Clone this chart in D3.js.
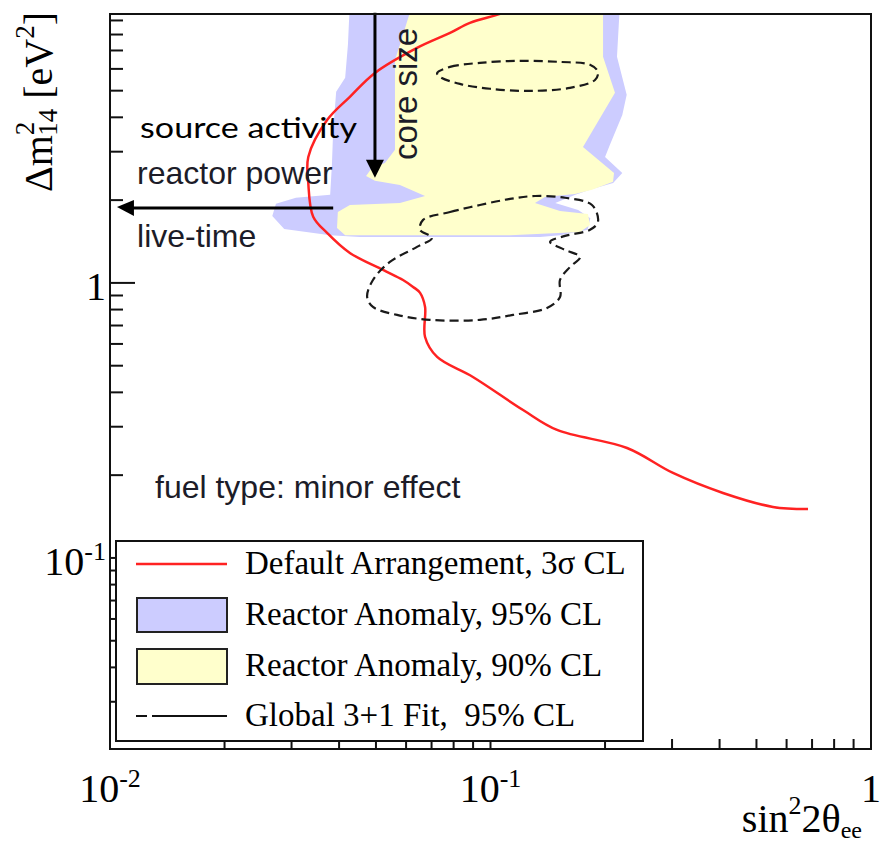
<!DOCTYPE html>
<html>
<head>
<meta charset="utf-8">
<script src="https://cdn.jsdelivr.net/npm/d3@7"></script>
<style>
  body { margin: 0; background: #fff; }
  svg { display: block; }
  text { white-space: pre; }
</style>
</head>
<body>
<script>
// Default Arrangement, 3 sigma CL (sin^2 2theta_ee, dm^2_14)
const defaultX = [0.135, 0.106, 0.0883, 0.0783, 0.0641, 0.0497, 0.0427, 0.0372, 0.0332, 0.0332, 0.0342, 0.0372, 0.0427, 0.0522, 0.0589, 0.0626, 0.0653, 0.0673, 0.0673, 0.0724, 0.0899, 0.1218, 0.1496, 0.2285, 0.3017, 0.4083, 0.5525, 0.683];
const defaultY = [10.7, 9.51, 8.82, 8.11, 7.15, 5.80, 4.75, 3.91, 2.87, 2.31, 1.74, 1.52, 1.285, 1.115, 1.025, 0.967, 0.920, 0.818, 0.636, 0.538, 0.455, 0.345, 0.292, 0.251, 0.2037, 0.1723, 0.1533, 0.1507];

// Reactor anomaly 95% CL region
const ra95X = [0.0427, 0.0422, 0.0415, 0.0393, 0.0386, 0.0383, 0.0379, 0.0308, 0.0273, 0.0267, 0.0287, 0.0379, 0.0454, 0.135, 0.152, 0.180, 0.183, 0.170, 0.148, 0.167, 0.185, 0.210, 0.222, 0.200, 0.206, 0.222, 0.228, 0.215, 0.219];
const ra95Y = [10.5, 7.34, 5.57, 4.95, 3.60, 2.69, 2.09, 2.04, 1.94, 1.75, 1.57, 1.49, 1.47, 1.47, 1.49, 1.56, 1.72, 1.84, 1.954, 2.09, 2.196, 2.31, 2.51, 2.87, 3.18, 4.08, 4.83, 6.64, 10.5];

// Reactor anomaly 90% CL region
const ra90X = [0.0626, 0.0578, 0.0561, 0.0561, 0.0528, 0.0488, 0.0471, 0.0497, 0.0578, 0.0673, 0.0578, 0.0427, 0.0397, 0.0395, 0.0415, 0.1125, 0.1719, 0.1826, 0.1804, 0.1523, 0.1309, 0.139, 0.1668, 0.1848, 0.2099, 0.2112, 0.175, 0.2124, 0.1976, 0.1976];
const ra90Y = [10.5, 7.34, 6.47, 3.05, 2.73, 2.62, 2.45, 2.35, 2.27, 2.07, 1.954, 1.92, 1.81, 1.585, 1.49, 1.49, 1.533, 1.625, 1.78, 1.827, 1.954, 2.055, 2.107, 2.18, 2.33, 2.51, 3.12, 4.91, 6.64, 10.5];

// Global 3+1 fit, 95% CL: upper island and lower island
const globUpX = [0.0724, 0.0783, 0.0938, 0.1195, 0.1523, 0.1826, 0.1916, 0.1882, 0.1618, 0.127, 0.0997, 0.0831, 0.0737];
const globUpY = [5.80, 6.10, 6.31, 6.42, 6.36, 6.21, 5.85, 5.47, 5.12, 4.99, 5.08, 5.29, 5.61];
const globLowX = [0.0665, 0.0783, 0.0938, 0.1125, 0.1309, 0.157, 0.1848, 0.1916, 0.1826, 0.157, 0.1434, 0.157, 0.1719, 0.1618, 0.1523, 0.1523, 0.1408, 0.1146, 0.0938, 0.0693, 0.0568, 0.0491, 0.0474, 0.0491, 0.0544, 0.0641, 0.0702, 0.0653];
const globLowY = [1.695, 1.81, 1.92, 2.02, 2.07, 2.04, 1.92, 1.667, 1.56, 1.482, 1.41, 1.318, 1.243, 1.143, 1.025, 0.889, 0.811, 0.765, 0.734, 0.734, 0.765, 0.818, 0.889, 1.025, 1.192, 1.352, 1.458, 1.56];

// tick labels
const xTickValues = [0.01, 0.1, 1];
const xTickBase = ['10', '10', '1'];
const xTickExp = ['-2', '-1', ''];
const yTickValues = [0.1, 1];
const yTickBase = ['10', '1'];
const yTickExp = ['-1', ''];

// legend
const legendLabels = ['Default Arrangement, 3\u03c3 CL', 'Reactor Anomaly, 95% CL', 'Reactor Anomaly, 90% CL', 'Global 3+1 Fit,  95% CL'];

// annotations [text, x, y]
const noteSourceActivity = ['source activity', 0.0120, 3.37];
const noteReactorPower = ['reactor power', 0.01178, 2.29];
const noteLiveTime = ['live-time', 0.01178, 1.352];
const noteFuelType = ['fuel type: minor effect', 0.01313, 0.1653];
const noteCoreSize = ['core size', 0.0641, 2.80];
const arrowCore = [0.0497, 9.6, 2.41];       // x, y from, y to
const arrowLive = [1.874, 0.0386, 0.01043];  // y, x from, x to

const serif = '"Liberation Serif", "Times New Roman", serif';
const sans = '"Liberation Sans", Arial, sans-serif';

const W = 881, H = 842;
const pLeft = 110, pRight = 871, pTop = 14, pBottom = 749;

const svg = d3.select('body').append('svg')
    .attr('width', W)
    .attr('height', H);

const x = d3.scaleLog().domain([0.01, 1]).range([pLeft, pRight]);
const y = d3.scaleLog().domain([0.0202, 9.5]).range([pBottom, pTop]);

svg.append('clipPath').attr('id', 'plot-clip')
    .append('rect')
    .attr('x', pLeft).attr('y', pTop)
    .attr('width', pRight - pLeft).attr('height', pBottom - pTop);

const plot = svg.append('g').attr('clip-path', 'url(#plot-clip)');

const zip = (xs, ys) => xs.map((v, i) => [v, ys[i]]);

const area = d3.line().x(d => x(d[0])).y(d => y(d[1]));

plot.append('path')
    .attr('d', area(zip(ra95X, ra95Y)) + 'Z')
    .attr('fill', '#ccccff');

plot.append('path')
    .attr('d', area(zip(ra90X, ra90Y)) + 'Z')
    .attr('fill', '#ffffcc');

function note(n, size, font, color) {
    return svg.append('text')
        .attr('x', x(n[1]))
        .attr('y', y(n[2]))
        .style('font-family', font)
        .style('font-size', size + 'px')
        .attr('fill', color)
        .text(n[0]);
}

const redLine = d3.line()
    .x(d => x(d[0]))
    .y(d => y(d[1]))
    .curve(d3.curveCatmullRom.alpha(0.5));

plot.append('path')
    .attr('d', redLine(zip(defaultX, defaultY)))
    .attr('fill', 'none')
    .attr('stroke', '#ff2222')
    .attr('stroke-width', 2.5);

const closedLine = d3.line()
    .x(d => x(d[0]))
    .y(d => y(d[1]))
    .curve(d3.curveCatmullRomClosed.alpha(0.5));

[[globUpX, globUpY], [globLowX, globLowY]].forEach(g => {
    plot.append('path')
        .attr('d', closedLine(zip(g[0], g[1])))
        .attr('fill', 'none')
        .attr('stroke', '#1a1a1a')
        .attr('stroke-width', 2.2)
        .attr('stroke-dasharray', '9,5');
});

note(noteSourceActivity, 29, 'Lato, "Open Sans", sans-serif', '#000').attr('textLength', 217).attr('lengthAdjust', 'spacingAndGlyphs');
note(noteReactorPower, 32, sans, '#1c1c28');
note(noteLiveTime, 32, sans, '#1c1c28');
note(noteFuelType, 32, sans, '#1c1c28');
svg.append('text')
    .attr('transform', `translate(${x(noteCoreSize[1])},${y(noteCoreSize[2])}) rotate(-90)`)
    .style('font-family', sans)
    .style('font-size', '33px')
    .attr('fill', '#1c1c28')
    .text(noteCoreSize[0]);

// arrows
const ax = x(arrowCore[0]), ay0 = y(arrowCore[1]), ay1 = y(arrowCore[2]);
svg.append('line')
    .attr('x1', ax).attr('x2', ax).attr('y1', ay0).attr('y2', ay1 - 12)
    .attr('stroke', '#000').attr('stroke-width', 3);
svg.append('path')
    .attr('d', `M${ax - 9},${ay1 - 18}L${ax + 9},${ay1 - 18}L${ax},${ay1}Z`)
    .attr('fill', '#000');

const ly = y(arrowLive[0]), lx0 = x(arrowLive[1]), lx1 = x(arrowLive[2]);
svg.append('line')
    .attr('x1', lx0).attr('x2', lx1 + 12).attr('y1', ly).attr('y2', ly)
    .attr('stroke', '#000').attr('stroke-width', 3);
svg.append('path')
    .attr('d', `M${lx1 + 17},${ly - 8}L${lx1 + 17},${ly + 8}L${lx1},${ly - 1}Z`)
    .attr('fill', '#000');

// ticks
const isMajor = v => Math.abs(Math.log10(v) - Math.round(Math.log10(v))) < 1e-6;

svg.append('g').selectAll('line')
    .data(y.ticks())
    .enter().append('line')
    .attr('x1', pLeft)
    .attr('x2', d => pLeft + (isMajor(d) ? 25 : 13))
    .attr('y1', d => y(d)).attr('y2', d => y(d))
    .attr('stroke', '#111').attr('stroke-width', 2);

svg.append('g').selectAll('line')
    .data(x.ticks())
    .enter().append('line')
    .attr('x1', d => x(d)).attr('x2', d => x(d))
    .attr('y1', pBottom)
    .attr('y2', d => pBottom - (isMajor(d) ? 22 : 10))
    .attr('stroke', '#111').attr('stroke-width', 2);

// frame
svg.append('rect')
    .attr('x', pLeft).attr('y', pTop)
    .attr('width', pRight - pLeft).attr('height', pBottom - pTop)
    .attr('fill', 'none')
    .attr('stroke', '#111').attr('stroke-width', 2);

// tick labels
xTickValues.forEach((v, i) => {
    const t = svg.append('text')
        .attr('x', x(v)).attr('y', 802)
        .attr('text-anchor', 'middle')
        .style('font-family', serif).style('font-size', '40px');
    t.append('tspan').text(xTickBase[i]);
    if (xTickExp[i]) t.append('tspan').text(xTickExp[i]).attr('dy', -15).style('font-size', '26px');
});

yTickValues.forEach((v, i) => {
    const t = svg.append('text')
        .attr('x', 106).attr('y', y(v) + 17)
        .attr('text-anchor', 'end')
        .style('font-family', serif).style('font-size', '40px');
    t.append('tspan').text(yTickBase[i]);
    if (yTickExp[i]) t.append('tspan').text(yTickExp[i]).attr('dy', -15).style('font-size', '26px');
});

// axis titles
const xt = svg.append('text')
    .attr('x', 862).attr('y', 832)
    .attr('text-anchor', 'end')
    .style('font-family', serif).style('font-size', '40px');
xt.append('tspan').text('sin');
xt.append('tspan').text('2').attr('dy', -18).style('font-size', '26px');
xt.append('tspan').text('2\u03b8').attr('dy', 18);
xt.append('tspan').text('ee').attr('dy', 6).style('font-size', '24px');

const yt = svg.append('text')
    .attr('transform', 'translate(52,102) rotate(-90)')
    .attr('text-anchor', 'middle')
    .style('font-family', serif).style('font-size', '40px');
yt.append('tspan').text('\u0394m');
yt.append('tspan').text('2').attr('dy', -18).style('font-size', '27px');
yt.append('tspan').text('14').attr('dx', -14).attr('dy', 23).style('font-size', '27px');
yt.append('tspan').text(' [eV').attr('dy', -5);
yt.append('tspan').text('2').attr('dy', -18).style('font-size', '27px');
yt.append('tspan').text(']').attr('dy', 18);

// legend
const lg = svg.append('g');
lg.append('rect')
    .attr('x', 116).attr('y', 541)
    .attr('width', 527).attr('height', 200)
    .attr('fill', '#fff')
    .attr('stroke', '#111').attr('stroke-width', 2);

const rowY = [564, 615, 666, 716];
lg.append('line')
    .attr('x1', 136).attr('x2', 227).attr('y1', rowY[0]).attr('y2', rowY[0])
    .attr('stroke', '#ff2222').attr('stroke-width', 2.5);
lg.append('rect')
    .attr('x', 137).attr('y', 598).attr('width', 90).attr('height', 34)
    .attr('fill', '#ccccff').attr('stroke', '#222').attr('stroke-width', 2);
lg.append('rect')
    .attr('x', 137).attr('y', 649).attr('width', 90).attr('height', 35)
    .attr('fill', '#ffffcc').attr('stroke', '#222').attr('stroke-width', 2);
lg.append('line')
    .attr('x1', 136).attr('x2', 227).attr('y1', rowY[3]).attr('y2', rowY[3])
    .attr('stroke', '#111').attr('stroke-width', 2)
    .attr('stroke-dasharray', '11,5,80');

lg.selectAll('text.lab')
    .data(legendLabels)
    .enter().append('text')
    .attr('class', 'lab')
    .attr('x', 245)
    .attr('y', (d, i) => rowY[i] + 10)
    .style('font-family', serif).style('font-size', '33px')
    .attr('fill', '#000')
    .text(d => d);
</script>
</body>
</html>
